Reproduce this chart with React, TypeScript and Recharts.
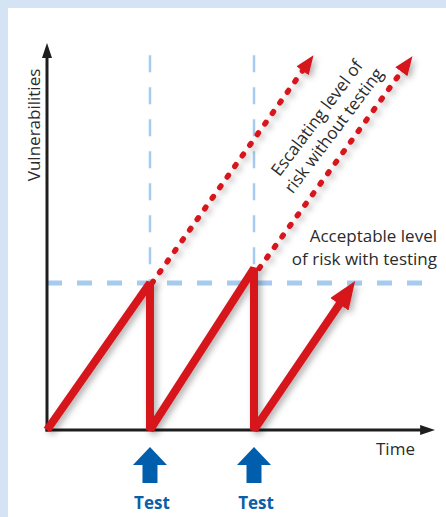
import React from 'react';
import { ComposedChart, Line, XAxis, YAxis, Scatter, ReferenceDot } from 'recharts';

// Time axis: tests happen at t ≈ 1 and t ≈ 2; vulnerability level 1.0 = acceptable level
const acceptableLevel = [
  { t: 0, v: 1.0 },
  { t: 3.62, v: 1.0 },
];
const testGuideA = [
  { t: 0.99, v: 2.55 },
  { t: 0.99, v: 1.0 },
];
const testGuideB = [
  { t: 1.99, v: 2.55 },
  { t: 1.99, v: 1.0 },
];
const riskWithTesting = [
  { t: 0, v: 0 },
  { t: 0.99, v: 1.0 },
  { t: 0.99, v: 0 },
  { t: 1.99, v: 1.1 },
  { t: 1.99, v: 0 },
  { t: 2.865, v: 0.912 },
];
const escalationA = [
  { t: 1.01, v: 1.0 },
  { t: 2.49, v: 2.478 },
];
const escalationB = [
  { t: 2.04, v: 1.1 },
  { t: 3.44, v: 2.471 },
];
const xAxisLine = [
  { t: 0, v: 0 },
  { t: 3.635, v: 0 },
];
const yAxisLine = [
  { t: 0, v: 0 },
  { t: 0, v: 2.566 },
];
const testMarks = [
  { t: 0.99, v: 0, label: 'Test' },
  { t: 1.99, v: 0, label: 'Test' },
];
const yTitle = 'Vulnerabilities';
const xTitle = 'Time';
const acceptableText = ['Acceptable level', 'of risk with testing'];
const escalatingText = ['Escalating level of', 'risk without testing'];

const RED = '#d7141f';
const BLUE_DASH = '#a6cbee';
const TEXT = '#2b2b2b';
const FONT = '"Open Sans", "Noto Sans", sans-serif';

const TestArrow = (props: any) => {
  const { cx, cy, payload } = props;
  if (cx == null || cy == null) return null;
  const top = cy + 17;
  const headBase = cy + 35;
  const bottom = cy + 53;
  const pts = [
    [cx, top],
    [cx + 17, headBase],
    [cx + 7.5, headBase],
    [cx + 7.5, bottom],
    [cx - 7.5, bottom],
    [cx - 7.5, headBase],
    [cx - 17, headBase],
  ]
    .map((p) => p.join(','))
    .join(' ');
  return (
    <g>
      <polygon points={pts} fill="#005eac" />
      <text
        x={cx + 2}
        y={cy + 79}
        textAnchor="middle"
        fontFamily={FONT}
        fontWeight={700}
        fontSize={17}
        fill="#0a5fa8"
      >
        {payload.label}
      </text>
    </g>
  );
};

export default function App() {
  return (
    <div style={{ position: 'absolute', left: 0, top: 0, width: 446, height: 517, background: '#d4e4f4' }}>
      <div style={{ position: 'absolute', left: 8, top: 8, right: 0, bottom: 0, background: '#ffffff' }} />
      <div style={{ position: 'absolute', left: 0, top: 0 }}>
        <ComposedChart width={446} height={517} margin={{ top: 45, right: 11, bottom: 87, left: 47 }}>
          <defs>
            <marker id="redHead" markerUnits="userSpaceOnUse" markerWidth={28} markerHeight={22} refX={10} refY={11} orient="auto">
              <path d="M0,0 L28,11 L0,22 Z" fill={RED} />
            </marker>
            <marker id="redHeadSmall" markerUnits="userSpaceOnUse" markerWidth={19} markerHeight={15} refX={6} refY={7.5} orient="auto">
              <path d="M0,0 L19,7.5 L0,15 Z" fill={RED} />
            </marker>
            <marker id="blackHead" markerUnits="userSpaceOnUse" markerWidth={15} markerHeight={10} refX={5} refY={5} orient="auto">
              <path d="M0,0 L15,5 L0,10 Z" fill="#1e1e1e" />
            </marker>
            <filter id="shadow" filterUnits="userSpaceOnUse" x={0} y={0} width={446} height={517}>
              <feDropShadow dx={3} dy={3} stdDeviation={3} floodColor="#000" floodOpacity={0.3} />
            </filter>
          </defs>
          <XAxis dataKey="t" type="number" domain={[0, 3.73]} hide />
          <YAxis dataKey="v" type="number" domain={[0, 2.62]} hide />

          <Line data={acceptableLevel} dataKey="v" stroke={BLUE_DASH} strokeWidth={5} strokeDasharray="15 15" dot={false} activeDot={false} isAnimationActive={false} />
          <Line data={testGuideA} dataKey="v" stroke={BLUE_DASH} strokeWidth={2.5} strokeDasharray="17 15" dot={false} activeDot={false} isAnimationActive={false} />
          <Line data={testGuideB} dataKey="v" stroke={BLUE_DASH} strokeWidth={2.5} strokeDasharray="17 15" dot={false} activeDot={false} isAnimationActive={false} />

          <Line data={xAxisLine} dataKey="v" stroke="#1e1e1e" strokeWidth={3} strokeLinecap="square" markerEnd="url(#blackHead)" dot={false} activeDot={false} isAnimationActive={false} />
          <Line data={yAxisLine} dataKey="v" stroke="#1e1e1e" strokeWidth={3} strokeLinecap="square" markerEnd="url(#blackHead)" dot={false} activeDot={false} isAnimationActive={false} />

          <Line data={escalationA} dataKey="v" stroke={RED} strokeWidth={5.5} strokeDasharray="2 11" strokeLinecap="round" markerEnd="url(#redHeadSmall)" filter="url(#shadow)" dot={false} activeDot={false} isAnimationActive={false} />
          <Line data={escalationB} dataKey="v" stroke={RED} strokeWidth={5.5} strokeDasharray="2 11" strokeLinecap="round" markerEnd="url(#redHeadSmall)" filter="url(#shadow)" dot={false} activeDot={false} isAnimationActive={false} />
          <Line data={riskWithTesting} dataKey="v" stroke={RED} strokeWidth={8} strokeLinejoin="miter" strokeMiterlimit={2} markerEnd="url(#redHead)" filter="url(#shadow)" dot={false} activeDot={false} isAnimationActive={false} />

          <Scatter data={testMarks} dataKey="v" shape={TestArrow} isAnimationActive={false} />

          <ReferenceDot
            x={0}
            y={2.076}
            r={0}
            ifOverflow="visible"
            shape={(p: any) => (
              <text x={p.cx - 7} y={p.cy} transform={`rotate(-90 ${p.cx - 7} ${p.cy})`} textAnchor="middle" fontFamily={FONT} fontSize={17} fill={TEXT}>
                {yTitle}
              </text>
            )}
          />
          <ReferenceDot
            x={3.35}
            y={0}
            r={0}
            ifOverflow="visible"
            shape={(p: any) => (
              <text x={p.cx} y={p.cy + 25} textAnchor="middle" fontFamily={FONT} fontSize={17} fill={TEXT}>
                {xTitle}
              </text>
            )}
          />
          <ReferenceDot
            x={3.73}
            y={1.0}
            r={0}
            ifOverflow="visible"
            shape={(p: any) => (
              <text textAnchor="end" fontFamily={FONT} fontSize={17} fill={TEXT}>
                <tspan x={p.cx + 2} y={p.cy - 41}>{acceptableText[0]}</tspan>
                <tspan x={p.cx + 2} y={p.cy - 18}>{acceptableText[1]}</tspan>
              </text>
            )}
          />
          <ReferenceDot
            x={2.64}
            y={2.1}
            r={0}
            ifOverflow="visible"
            shape={(p: any) => (
              <text transform={`rotate(-53 ${p.cx} ${p.cy})`} textAnchor="middle" fontFamily={FONT} fontSize={17} fill={TEXT}>
                <tspan x={p.cx} y={p.cy}>{escalatingText[0]}</tspan>
                <tspan x={p.cx} y={p.cy + 21}>{escalatingText[1]}</tspan>
              </text>
            )}
          />
        </ComposedChart>
      </div>
    </div>
  );
}
